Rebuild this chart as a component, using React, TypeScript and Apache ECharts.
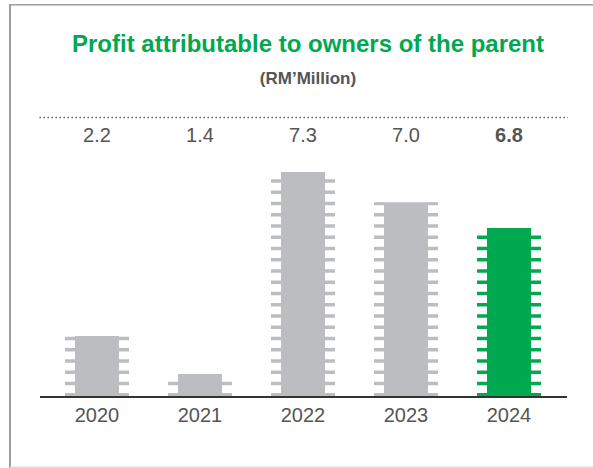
import React, { useEffect, useRef } from "react";
import * as echarts from "echarts";

const years = ["2020", "2021", "2022", "2023", "2024"];
const valueLabels = ["2.2", "1.4", "7.3", "7.0", "6.8"];
// bar heights (scaled so that 2022 = 7.3)
const barValues = [1.97, 0.73, 7.3, 6.32, 5.48];
const highlightIndex = 4;

const titleText = "Profit attributable to owners of the parent";
const subtitleText = "(RM\u2019Million)";

const GREEN = "#00a84f";
const GRAY = "#bcbdc0";
const TEXT = "#555555";
const FONT = "'Liberation Sans', Arial, Helvetica, sans-serif";

export default function App() {
  const ref = useRef<HTMLDivElement>(null);

  useEffect(() => {
    if (!ref.current) return;
    const chart = echarts.init(ref.current, undefined, { renderer: "svg" });

    const renderItem = (params: any, api: any) => {
      const idx = api.value(0);
      const v = api.value(1);
      const top = api.coord([idx, v]);
      const base = api.coord([idx, 0]);
      const cx = top[0];
      const yTop = top[1];
      const yBase = base[1];
      const color = idx === highlightIndex ? GREEN : GRAY;
      const bodyHalf = 22;
      const tickLen = 10;
      const tickH = 3.5;
      const period = 11.25;
      const children: any[] = [
        {
          type: "rect",
          shape: { x: cx - bodyHalf, y: yTop, width: bodyHalf * 2, height: yBase - yTop },
          style: { fill: color },
        },
      ];
      for (let k = 0; k < 100; k++) {
        const ty = yBase - tickH - k * period;
        if (ty + tickH <= yTop) break;
        const y0 = Math.max(ty, yTop);
        const h = ty + tickH - y0;
        children.push({
          type: "rect",
          shape: { x: cx - bodyHalf - tickLen, y: y0, width: tickLen, height: h },
          style: { fill: color },
        });
        children.push({
          type: "rect",
          shape: { x: cx + bodyHalf, y: y0, width: tickLen, height: h },
          style: { fill: color },
        });
      }
      return { type: "group", children };
    };

    chart.setOption({
      animation: false,
      backgroundColor: "#ffffff",
      textStyle: { fontFamily: FONT },
      title: [
        {
          text: titleText,
          left: 303,
          top: 26,
          textAlign: "center",
          textStyle: { color: GREEN, fontSize: 24, fontWeight: "bold", fontFamily: FONT },
        },
        {
          text: subtitleText,
          left: 303,
          top: 65,
          textAlign: "center",
          textStyle: { color: TEXT, fontSize: 17, fontWeight: "bold", fontFamily: FONT },
        },
      ],
      grid: { left: 45.5, right: 32.5, top: 150.5, bottom: 71.5 },
      xAxis: [
        {
          type: "category",
          data: years,
          position: "bottom",
          axisLine: { show: false },
          axisTick: { show: false },
          axisLabel: { color: TEXT, fontSize: 20, margin: 8, fontFamily: FONT },
        },
        {
          type: "category",
          data: valueLabels,
          position: "top",
          axisLine: { show: false },
          axisTick: { show: false },
          axisLabel: {
            color: TEXT,
            fontSize: 20,
            margin: 6,
            fontFamily: FONT,
            formatter: (v: string, i: number) => (i === highlightIndex ? "{b|" + v + "}" : v),
            rich: { b: { fontWeight: "bold", fontSize: 20, color: TEXT, fontFamily: FONT } },
          },
        },
      ],
      yAxis: { type: "value", min: 0, max: 8, show: false },
      series: [
        {
          type: "custom",
          xAxisIndex: 0,
          renderItem,
          encode: { x: 0, y: 1 },
          data: barValues.map((v, i) => [i, v]),
        },
      ],
      graphic: [
        {
          type: "line",
          z: 100,
          shape: { x1: 10, y1: 4.7, x2: 593, y2: 4.7 },
          style: { stroke: "#9c9c9c", lineWidth: 1.6 },
        },
        {
          type: "line",
          z: 100,
          shape: { x1: 10, y1: 4, x2: 10, y2: 468 },
          style: { stroke: "#9c9c9c", lineWidth: 2 },
        },
        {
          type: "line",
          z: 100,
          shape: { x1: 10, y1: 467.2, x2: 593, y2: 467.2 },
          style: { stroke: "#dcdcdc", lineWidth: 1.6 },
        },
        {
          type: "line",
          z: 100,
          shape: { x1: 39.5, y1: 117.5, x2: 568, y2: 117.5 },
          style: { stroke: "#444444", lineWidth: 1.3, lineDash: [1.3, 2.7] },
        },
        {
          type: "line",
          z: 100,
          shape: { x1: 40, y1: 397, x2: 567, y2: 397 },
          style: { stroke: "#333333", lineWidth: 1.8 },
        },
      ],
    });

    return () => chart.dispose();
  }, []);

  return (
    <div
      ref={ref}
      style={{ position: "fixed", left: 0, top: 0, width: 593, height: 468, background: "#fff" }}
    />
  );
}
